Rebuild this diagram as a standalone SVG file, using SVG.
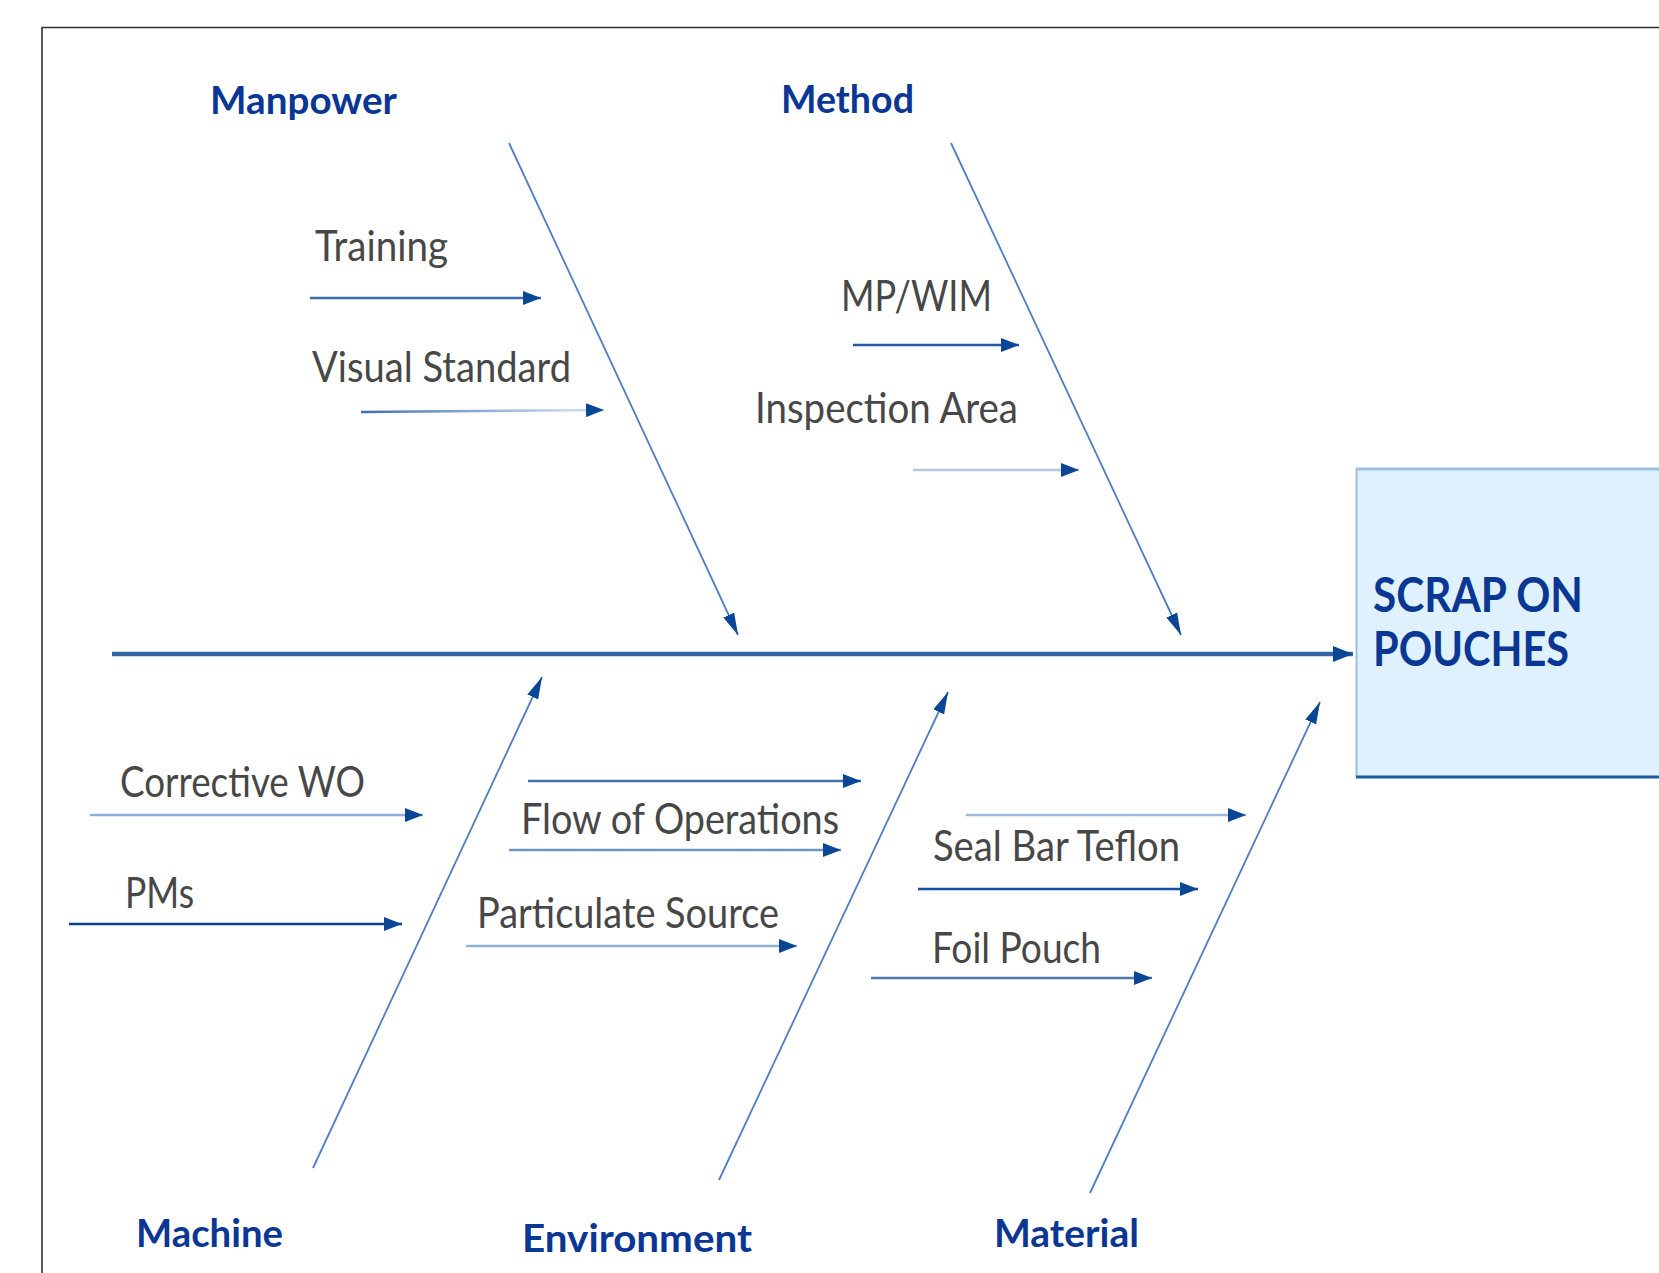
<svg xmlns="http://www.w3.org/2000/svg" width="1659" height="1273" viewBox="0 0 1659 1273">
  <defs>
    <marker id="head" markerUnits="userSpaceOnUse" markerWidth="18" markerHeight="14" refX="18" refY="7" orient="auto">
      <path d="M0,0 L18,7 L0,14 z" fill="#0a4696"/>
    </marker>
    <marker id="headBone" markerUnits="userSpaceOnUse" markerWidth="22" markerHeight="12" refX="22" refY="6" orient="auto">
      <path d="M0,0 L22,6 L0,12 z" fill="#0a4696"/>
    </marker>
    <marker id="headBig" markerUnits="userSpaceOnUse" markerWidth="20" markerHeight="16" refX="20" refY="8" orient="auto">
      <path d="M0,0 L20,8 L0,16 z" fill="#0a4696"/>
    </marker>
    <linearGradient id="fadeBlue" x1="0" y1="0" x2="1" y2="0">
      <stop offset="0" stop-color="#3f6fb0"/>
      <stop offset="0.85" stop-color="#c6d8ee"/>
      <stop offset="1" stop-color="#c6d8ee"/>
    </linearGradient>
    <style>
      .cat { font-family: Lato, "Open Sans", "Liberation Sans", sans-serif; font-weight: 700; font-size: 39px; fill: #0a3694; }
      .sub { font-family: Lato, "Open Sans", "Liberation Sans", sans-serif; font-weight: 400; font-size: 43px; fill: #474747; }
      .effect { font-family: Lato, "Open Sans", "Liberation Sans", sans-serif; font-weight: 700; font-size: 47px; fill: #0a3694; }
      .bone { stroke: #4d7fc0; stroke-width: 1.8; fill: none; }
      .twig { fill: none; stroke-width: 2.5; }
    </style>
  </defs>

  <rect width="1659" height="1273" fill="#ffffff"/>
  <!-- outer frame (continues past right and bottom edges) -->
  <path d="M42,1280 L42,27.5 L1670,27.5" fill="none" stroke="#333333" stroke-width="1.6"/>

  <!-- effect box -->
  <g id="effect">
    <rect x="1356" y="469" width="320" height="308" fill="#dff1fd"/>
    <line x1="1356" y1="469" x2="1670" y2="469" stroke="#9fc0e3" stroke-width="3"/>
    <line x1="1356.5" y1="469" x2="1356.5" y2="777" stroke="#9fc0e3" stroke-width="2"/>
    <line x1="1356" y1="777" x2="1670" y2="777" stroke="#1f5aa0" stroke-width="3"/>
    <text class="effect" x="1373" y="612" textLength="210" lengthAdjust="spacingAndGlyphs">SCRAP ON</text>
    <text class="effect" x="1373" y="666" textLength="196" lengthAdjust="spacingAndGlyphs">POUCHES</text>
  </g>

  <!-- connectors -->
  <g id="connectors">
    <!-- spine -->
    <line x1="112" y1="654" x2="1353" y2="654" stroke="#3466a6" stroke-width="4.5" marker-end="url(#headBig)"/>
    <!-- main bones -->
    <line class="bone" x1="509" y1="143" x2="738" y2="635" marker-end="url(#headBone)"/>
    <line class="bone" x1="951" y1="143" x2="1181" y2="635" marker-end="url(#headBone)"/>
    <line class="bone" x1="313" y1="1168" x2="542" y2="677" marker-end="url(#headBone)"/>
    <line class="bone" x1="719" y1="1180" x2="948" y2="692" marker-end="url(#headBone)"/>
    <line class="bone" x1="1090" y1="1193" x2="1320" y2="702" marker-end="url(#headBone)"/>
    <!-- Manpower causes -->
    <line class="twig" x1="310" y1="298" x2="541" y2="298" stroke="#3b6dad" stroke-width="3" marker-end="url(#head)"/>
    <line class="twig" x1="361" y1="412" x2="604" y2="410" stroke="url(#fadeBlue)" stroke-width="3" marker-end="url(#head)"/>
    <!-- Method causes -->
    <line class="twig" x1="853" y1="345" x2="1019" y2="345" stroke="#2358a3" stroke-width="3" marker-end="url(#head)"/>
    <line class="twig" x1="913" y1="470" x2="1079" y2="470" stroke="#b3c9e3" stroke-width="3" marker-end="url(#head)"/>
    <!-- Machine causes -->
    <line class="twig" x1="90" y1="815" x2="423" y2="815" stroke="#8fb0d8" marker-end="url(#head)"/>
    <line class="twig" x1="69" y1="924" x2="402" y2="924" stroke="#0c3f8c" stroke-width="3" marker-end="url(#head)"/>
    <!-- Environment causes -->
    <line class="twig" x1="528" y1="781" x2="861" y2="781" stroke="#4671ad" marker-end="url(#head)"/>
    <line class="twig" x1="509" y1="850" x2="841" y2="850" stroke="#6f94c6" marker-end="url(#head)"/>
    <line class="twig" x1="466" y1="946" x2="797" y2="946" stroke="#93b2d8" marker-end="url(#head)"/>
    <!-- Material causes -->
    <line class="twig" x1="966" y1="815" x2="1246" y2="815" stroke="#9bbadc" marker-end="url(#head)"/>
    <line class="twig" x1="918" y1="889" x2="1198" y2="889" stroke="#13509e" stroke-width="3.5" marker-end="url(#head)"/>
    <line class="twig" x1="871" y1="978" x2="1152" y2="978" stroke="#4d7ab5" marker-end="url(#head)"/>
  </g>

  <!-- category groups -->
  <g id="manpower">
    <text class="cat" x="210" y="114" textLength="187" lengthAdjust="spacingAndGlyphs">Manpower</text>
    <text class="sub" x="315" y="261" textLength="133" lengthAdjust="spacingAndGlyphs">Training</text>
    <text class="sub" x="312" y="382" textLength="259" lengthAdjust="spacingAndGlyphs">Visual Standard</text>
  </g>
  <g id="method">
    <text class="cat" x="781" y="113" textLength="133" lengthAdjust="spacingAndGlyphs">Method</text>
    <text class="sub" x="841" y="311" textLength="151" lengthAdjust="spacingAndGlyphs">MP/WIM</text>
    <text class="sub" x="755" y="423" textLength="263" lengthAdjust="spacingAndGlyphs">Inspection Area</text>
  </g>
  <g id="machine">
    <text class="cat" x="136" y="1247" textLength="147" lengthAdjust="spacingAndGlyphs">Machine</text>
    <text class="sub" x="120" y="797" textLength="245" lengthAdjust="spacingAndGlyphs">Corrective WO</text>
    <text class="sub" x="125" y="908" textLength="69" lengthAdjust="spacingAndGlyphs">PMs</text>
  </g>
  <g id="environment">
    <text class="cat" x="522" y="1252" textLength="230" lengthAdjust="spacingAndGlyphs">Environment</text>
    <text class="sub" x="521" y="834" textLength="318" lengthAdjust="spacingAndGlyphs">Flow of Operations</text>
    <text class="sub" x="477" y="928" textLength="302" lengthAdjust="spacingAndGlyphs">Particulate Source</text>
  </g>
  <g id="material">
    <text class="cat" x="994" y="1247" textLength="145" lengthAdjust="spacingAndGlyphs">Material</text>
    <text class="sub" x="933" y="861" textLength="247" lengthAdjust="spacingAndGlyphs">Seal Bar Teflon</text>
    <text class="sub" x="932" y="963" textLength="169" lengthAdjust="spacingAndGlyphs">Foil Pouch</text>
  </g>
</svg>
